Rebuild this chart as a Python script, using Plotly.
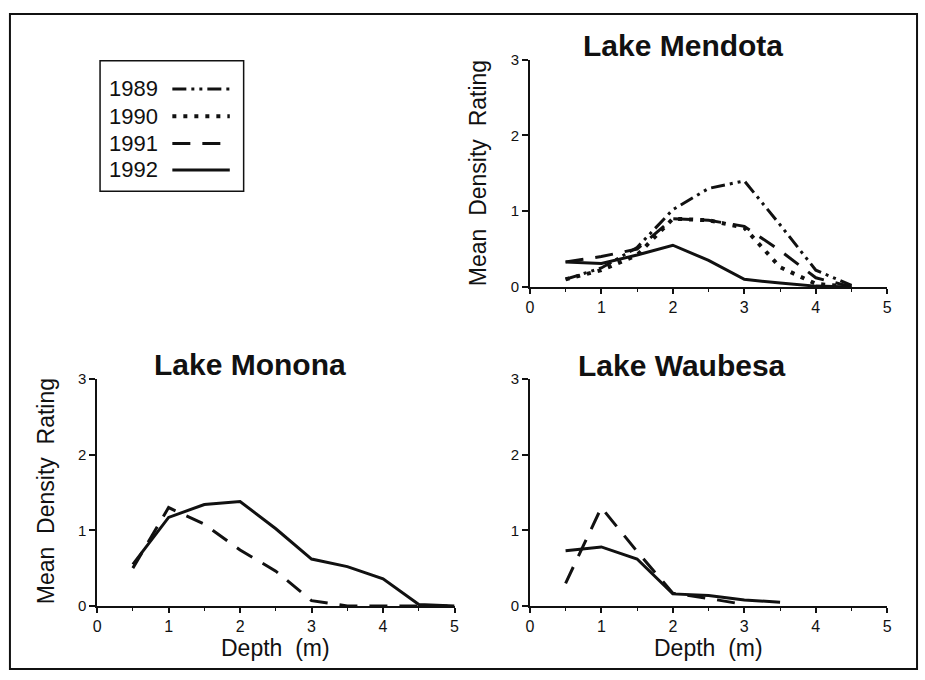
import plotly.graph_objects as go

W, H = 925, 680

# ---------------- data ----------------
years = ["1989", "1990", "1991", "1992"]

mendota_depth = [0.5, 1.0, 1.5, 2.0, 2.5, 3.0, 3.5, 4.0, 4.5]
mendota_1989 = [0.10, 0.25, 0.52, 1.02, 1.30, 1.40, 0.82, 0.22, 0.02]
mendota_1990 = [0.10, 0.22, 0.42, 0.90, 0.88, 0.78, 0.26, 0.04, 0.0]
mendota_1991 = [0.33, 0.40, 0.50, 0.90, 0.88, 0.80, 0.48, 0.12, 0.0]
mendota_1992 = [0.33, 0.31, 0.42, 0.55, 0.35, 0.10, 0.05, 0.01, 0.0]

monona_depth = [0.5, 1.0, 1.5, 2.0, 2.5, 3.0, 3.5, 4.0, 4.5, 5.0]
monona_1991 = [0.50, 1.30, 1.08, 0.74, 0.46, 0.07, 0.0, 0.0, 0.0, 0.0]
monona_1992 = [0.55, 1.17, 1.34, 1.38, 1.02, 0.62, 0.52, 0.36, 0.02, 0.0]

waubesa_depth = [0.5, 1.0, 1.5, 2.0, 2.5, 3.0, 3.5]
waubesa_1991 = [0.30, 1.30, 0.72, 0.17, 0.10, 0.02]
waubesa_1992 = [0.73, 0.78, 0.62, 0.16, 0.14, 0.08, 0.05]

x_ticks = [0, 1, 2, 3, 4, 5]
y_ticks = [0, 1, 2, 3]

styles = {
    "1989": dict(dash="14px,5px,3px,5px,3px,5px", width=3),
    "1990": dict(dash="4px,7px", width=4),
    "1991": dict(dash="18px,12px", width=3),
    "1992": dict(dash="solid", width=3),
}

FONT = "Liberation Sans, Arial, sans-serif"
INK = "#111111"

def px(x):
    return x / W

def py(y):
    return 1 - y / H

fig = go.Figure()

def add(xs, ys, year, ax):
    st = styles[year]
    fig.add_trace(go.Scatter(
        x=xs[:len(ys)], y=ys, mode="lines", name=year, showlegend=False,
        line=dict(color=INK, width=st["width"], dash=st["dash"]),
        xaxis="x" + ax, yaxis="y" + ax, hoverinfo="x+y+name",
    ))

add(mendota_depth, mendota_1989, "1989", "")
add(mendota_depth, mendota_1990, "1990", "")
add(mendota_depth, mendota_1991, "1991", "")
add(mendota_depth, mendota_1992, "1992", "")
add(monona_depth, monona_1991, "1991", "2")
add(monona_depth, monona_1992, "1992", "2")
add(waubesa_depth, waubesa_1991, "1991", "3")
add(waubesa_depth, waubesa_1992, "1992", "3")

def xax(dom_x, anchor):
    return dict(domain=dom_x, range=[0, 5], tickvals=x_ticks, ticks="outside",
                ticklen=5, tickwidth=1.5, tickcolor=INK, showline=True,
                linecolor=INK, linewidth=1.5, showgrid=False, zeroline=False,
                tickfont=dict(family=FONT, size=16, color=INK), anchor=anchor,
                minor=dict(dtick=0.5, tick0=0, ticks="outside", ticklen=3,
                           tickwidth=1.2, tickcolor=INK, showgrid=False),
                fixedrange=True)

def yax(dom_y, anchor):
    return dict(domain=dom_y, range=[0, 3], tickvals=y_ticks, ticks="outside",
                ticklen=6, tickwidth=1.5, tickcolor=INK, showline=True,
                linecolor=INK, linewidth=1.5, showgrid=False, zeroline=False,
                tickfont=dict(family=FONT, size=15, color=INK), anchor=anchor,
                fixedrange=True)

top_y = [py(285), py(52)]
bot_y = [py(612.3), py(379.3)]
right_x = [px(531), px(892)]
left_x = [px(94), px(455)]

annotations = []
def ann(text, x, y, size, bold=False, angle=0):
    annotations.append(dict(
        text=("<b>%s</b>" % text) if bold else text, x=px(x), y=py(y),
        xref="paper", yref="paper", showarrow=False, textangle=angle,
        xanchor="center", yanchor="middle",
        font=dict(family=FONT, size=size, color=INK)))

ann("Lake Mendota", 686, 37, 30, bold=True)
ann("Lake Monona", 248, 365, 30, bold=True)
ann("Lake Waubesa", 685, 366, 30, bold=True)
ytitle = "Mean\u00a0\u00a0Density\u00a0\u00a0Rating"
ann(ytitle, 478, 168, 23, angle=-90)
ann(ytitle, 42, 495, 23, angle=-90)
ann("Depth\u00a0\u00a0(m)", 274, 655, 23)
ann("Depth\u00a0\u00a0(m)", 711, 655, 23)

shapes = [
    dict(type="rect", xref="paper", yref="paper", x0=px(6), x1=px(922),
         y0=py(677), y1=py(5), line=dict(color=INK, width=2)),
    dict(type="rect", xref="paper", yref="paper", x0=px(97), x1=px(242),
         y0=py(187), y1=py(53), line=dict(color=INK, width=1.5)),
]
leg_y = [82, 110, 138, 165]
for yr, yy in zip(years, leg_y):
    st = styles[yr]
    annotations.append(dict(text=yr, x=px(104), y=py(yy), xref="paper", yref="paper",
                            showarrow=False, xanchor="left", yanchor="middle",
                            font=dict(family=FONT, size=22, color=INK)))
    shapes.append(dict(type="line", xref="paper", yref="paper", x0=px(170), x1=px(228),
                       y0=py(yy), y1=py(yy),
                       line=dict(color=INK, width=st["width"], dash=st["dash"])))

fig.update_layout(
    width=W, height=H, margin=dict(l=0, r=0, t=0, b=0),
    paper_bgcolor="white", plot_bgcolor="white", showlegend=False,
    xaxis=xax(right_x, "y"), yaxis=yax(top_y, "x"),
    xaxis2=xax(left_x, "y2"), yaxis2=yax(bot_y, "x2"),
    xaxis3=xax(right_x, "y3"), yaxis3=yax(bot_y, "x3"),
    annotations=annotations, shapes=shapes,
)

fig.write_html(
    "out.html",
    config={"displayModeBar": False},
    post_script="document.body.style.margin='0';document.body.style.overflow='hidden';"
                "document.documentElement.style.overflow='hidden';",
)
